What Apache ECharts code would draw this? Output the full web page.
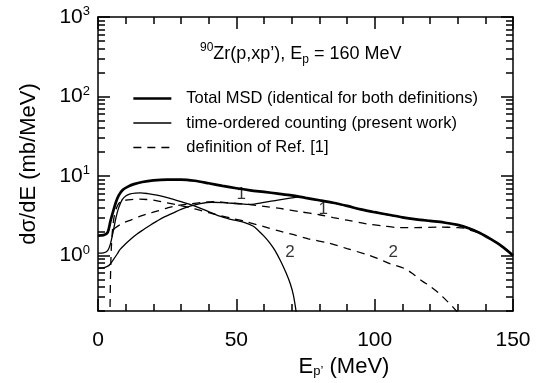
<!DOCTYPE html>
<html>
<head>
<meta charset="utf-8">
<script src="https://cdn.jsdelivr.net/npm/echarts@6/dist/echarts.min.js"></script>
<style>
  html, body { margin: 0; padding: 0; background: #fff; }
  #chart { width: 545px; height: 383px; }
</style>
</head>
<body>
<div id="chart"></div>
<script>
// values: E_p' (MeV) and dσ/dE (mb/MeV)
const totalE = [0, 2, 3.5, 4.5, 5.5, 6.5, 7.5, 9, 11, 13, 16, 20, 25, 30, 35, 40, 45, 50, 55, 60, 65, 70, 75, 80, 85, 90, 95, 100, 105, 110, 115, 120, 125, 130, 134, 138, 142, 146, 150];
const totalVal = [1.78, 1.8, 1.95, 2.7, 3.6, 4.7, 5.7, 6.7, 7.4, 7.9, 8.4, 8.8, 9.0, 9.0, 8.7, 8.1, 7.5, 7.0, 6.6, 6.3, 6.0, 5.7, 5.3, 4.95, 4.6, 4.2, 3.8, 3.5, 3.25, 3.02, 2.85, 2.72, 2.6, 2.42, 2.2, 1.92, 1.6, 1.3, 1.0];

// time-ordered counting, step 1 (joins the total after ~73 MeV)
const tocOneE = [0, 2, 4, 5.5, 7, 8, 10, 12, 14, 16.5, 19, 21.3, 24, 27.3, 30, 33.3, 37, 41, 45, 50, 55, 60, 65, 70, 73, 75, 80, 85, 90, 95, 100, 105, 110, 115, 120, 125, 130, 134, 138, 142, 146, 150];
const tocOneVal = [0.69, 0.7, 0.75, 0.88, 1.05, 1.19, 1.4, 1.62, 1.85, 2.12, 2.42, 2.7, 3.05, 3.44, 3.8, 4.17, 4.5, 4.67, 4.62, 4.5, 4.38, 4.65, 4.98, 5.3, 5.46, 5.3, 4.95, 4.6, 4.2, 3.8, 3.5, 3.25, 3.02, 2.85, 2.72, 2.6, 2.42, 2.2, 1.92, 1.6, 1.3, 1.0];

// time-ordered counting, step 2
const tocTwoE = [0, 2, 3.5, 4.5, 5.5, 6.5, 7.5, 8.7, 10, 11.7, 13.5, 15.3, 18, 21.3, 24, 27.3, 30, 33.3, 38, 44, 48, 52.5, 56, 58, 60, 62, 64, 66, 68, 69.5, 70.6, 71.4, 71.8];
const tocTwoVal = [1.07, 1.08, 1.15, 1.4, 2.0, 3.0, 4.0, 5.0, 5.6, 5.96, 6.1, 6.14, 6.0, 5.73, 5.45, 5.06, 4.75, 4.38, 3.8, 3.12, 2.85, 2.62, 2.35, 2.05, 1.75, 1.45, 1.15, 0.85, 0.6, 0.44, 0.32, 0.22, 0.17];

// definition of Ref. [1], step 1
const refOneE = [5.6, 6.2, 9.2, 12, 15.3, 18, 21.3, 25, 28, 33.3, 38, 42, 47, 53.8, 60, 65.8, 73, 80, 85, 90, 97, 103, 109, 115, 123, 130, 133, 135, 138, 142, 146, 150];
const refOneVal = [2.1, 2.22, 2.57, 2.8, 3.12, 3.35, 3.6, 3.95, 4.2, 4.45, 4.65, 4.75, 4.6, 4.4, 4.15, 3.9, 3.55, 3.25, 3.0, 2.78, 2.5, 2.35, 2.24, 2.24, 2.27, 2.24, 2.18, 2.05, 1.92, 1.6, 1.3, 1.0];

// definition of Ref. [1], step 2
const refTwoE = [4.3, 4.5, 4.8, 5.3, 6, 7, 8, 9.2, 12, 15, 17.7, 21, 25, 29.7, 35, 40, 44.1, 49, 53.8, 60, 65.8, 70, 76, 83.8, 90, 97, 101, 105.5, 111, 114, 117, 120, 123, 126, 128, 130.1];
const refTwoVal = [0.15, 0.5, 1.2, 2.2, 3.3, 4.2, 4.7, 4.9, 5.05, 5.1, 5.06, 4.9, 4.6, 4.25, 3.85, 3.45, 3.18, 2.9, 2.65, 2.3, 2.02, 1.85, 1.62, 1.42, 1.22, 1.03, 0.92, 0.79, 0.68, 0.58, 0.48, 0.41, 0.34, 0.27, 0.23, 0.19];

// step labels on the curves
const stepLabelE = [51.8, 81.4, 69.4, 106.7];
const stepLabelVal = [5.84, 3.78, 1.11, 1.11];
const stepLabelText = ['1', '1', '2', '2'];

// axis ticks
const yMajorTicks = [1, 10, 100, 1000];
const yMinorTicks = [0.2, 0.3, 0.4, 0.5, 0.6, 0.7, 0.8, 0.9, 2, 3, 4, 5, 6, 7, 8, 9, 20, 30, 40, 50, 60, 70, 80, 90, 200, 300, 400, 500, 600, 700, 800, 900];

const NAME_TOTAL = 'Total MSD (identical for both definitions)';
const NAME_TOC = 'time-ordered counting (present work)';
const NAME_REF = 'definition of Ref. [1]';

const FONT = '"Liberation Sans", Arial, Helvetica, sans-serif';

const pairs = (xs, ys) => xs.map((x, i) => [x, ys[i]]);

const chart = echarts.init(document.getElementById('chart'));

const tickLine = { color: '#000', width: 1.5 };

const xCommon = {
  type: 'value', min: 0, max: 150, interval: 50,
  splitLine: { show: false },
  axisLine: { show: true, lineStyle: { color: '#000', width: 1.5 } },
  axisTick: { show: true, inside: true, length: 12, lineStyle: tickLine },
  minorTick: { show: true, splitNumber: 5, length: 7, lineStyle: tickLine },
};

const yCommon = {
  type: 'log', logBase: 10, min: 0.2, max: 1000,
  splitLine: { show: false },
  axisLine: { show: true, lineStyle: { color: '#000', width: 1.5 } },
};

const decadeLabel = v => '{b|10}{s|' + Math.round(Math.log10(v)) + '}';

const lineSeries = (name, xs, ys, width, type) => ({
  name, type: 'line', xAxisIndex: 0, yAxisIndex: 0,
  data: pairs(xs, ys),
  symbol: 'none', smooth: 0.3,
  lineStyle: { color: '#000', width, type },
  z: width > 2 ? 4 : 3,
});

const option = {
  animation: false,
  backgroundColor: '#fff',
  textStyle: { fontFamily: FONT, color: '#000' },
  grid: { left: 98, right: 32, top: 17, bottom: 70 },
  title: {
    text: '{sup|90}Zr(p,xp\u2019), E{sub|p} = 160 MeV',
    left: 195, top: 37,
    textStyle: {
      fontFamily: FONT, fontSize: 18, fontWeight: 'normal', color: '#000', lineHeight: 24,
      rich: {
        sup: { fontFamily: FONT, fontSize: 12, lineHeight: 12, verticalAlign: 'top', color: '#000' },
        sub: { fontFamily: FONT, fontSize: 12, lineHeight: 12, verticalAlign: 'bottom', color: '#000' },
      },
    },
  },
  legend: {
    left: 127, top: 85, orient: 'vertical',
    itemWidth: 38, itemHeight: 17, itemGap: 7.5,
    selectedMode: false,
    itemStyle: { opacity: 0 },
    lineStyle: { width: 'inherit' },
    textStyle: { fontFamily: FONT, fontSize: 16.5, color: '#000', lineHeight: 17, padding: [0, 0, 0, 10] },
    data: [NAME_TOTAL, NAME_TOC, NAME_REF],
  },
  xAxis: [
    Object.assign({}, xCommon, {
      position: 'bottom',
      name: 'E{sub|p\u2019} (MeV)', nameLocation: 'middle', nameGap: 45,
      nameTextStyle: {
        fontFamily: FONT, fontSize: 22, color: '#000', padding: [0, 0, 0, 77],
        rich: { sub: { fontFamily: FONT, fontSize: 13, verticalAlign: 'bottom', lineHeight: 13, color: '#000' } },
      },
      axisLabel: { show: true, margin: 19, fontFamily: FONT, fontSize: 21, color: '#000' },
    }),
    Object.assign({}, xCommon, { position: 'top', axisLabel: { show: false } }),
  ],
  yAxis: [
    Object.assign({}, yCommon, {
      position: 'left',
      name: 'd\u03c3/dE (mb/MeV)', nameLocation: 'middle', nameGap: 58, nameRotate: 90,
      nameTextStyle: { fontFamily: FONT, fontSize: 22, color: '#000' },
      axisTick: { show: true, inside: true, length: 12, customValues: yMajorTicks, lineStyle: tickLine },
      axisLabel: {
        show: true, margin: 8, customValues: yMajorTicks, formatter: decadeLabel,
        rich: {
          b: { fontFamily: FONT, fontSize: 21, lineHeight: 24, color: '#000' },
          s: { fontFamily: FONT, fontSize: 13, lineHeight: 13, verticalAlign: 'top', color: '#000' },
        },
      },
    }),
    Object.assign({}, yCommon, {
      position: 'left', axisLine: { show: false },
      axisTick: { show: true, inside: true, length: 7, customValues: yMinorTicks, lineStyle: tickLine },
      axisLabel: { show: false },
    }),
    Object.assign({}, yCommon, {
      position: 'right',
      axisTick: { show: true, inside: true, length: 12, customValues: yMajorTicks, lineStyle: tickLine },
      axisLabel: { show: false },
    }),
    Object.assign({}, yCommon, {
      position: 'right', axisLine: { show: false },
      axisTick: { show: true, inside: true, length: 7, customValues: yMinorTicks, lineStyle: tickLine },
      axisLabel: { show: false },
    }),
  ],
  series: [
    lineSeries(NAME_REF, refOneE, refOneVal, 1.3, [8, 6]),
    lineSeries(NAME_REF, refTwoE, refTwoVal, 1.3, [8, 6]),
    lineSeries(NAME_TOC, tocOneE, tocOneVal, 1.3, 'solid'),
    lineSeries(NAME_TOC, tocTwoE, tocTwoVal, 1.3, 'solid'),
    lineSeries(NAME_TOTAL, totalE, totalVal, 2.7, 'solid'),
    {
      name: 'step labels', type: 'scatter', xAxisIndex: 0, yAxisIndex: 0,
      symbolSize: 1, itemStyle: { color: 'transparent' }, silent: true, z: 5,
      data: stepLabelE.map((x, i) => ({ value: [x, stepLabelVal[i]], name: stepLabelText[i] })),
      label: { show: true, position: 'inside', formatter: '{b}', fontFamily: FONT, fontSize: 17, color: '#000' },
    },
  ],
};

chart.setOption(option);
</script>
</body>
</html>
